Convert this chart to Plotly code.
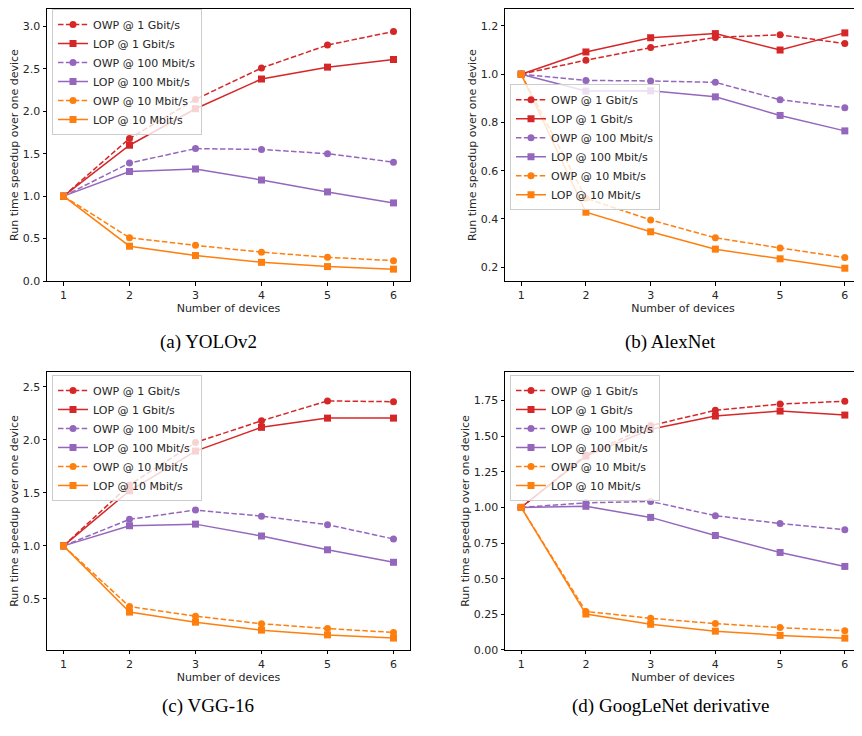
import plotly.graph_objects as go

devices = [1, 2, 3, 4, 5, 6]

series_names = ["OWP @ 1 Gbit/s", "LOP @ 1 Gbit/s", "OWP @ 100 Mbit/s",
                "LOP @ 100 Mbit/s", "OWP @ 10 Mbit/s", "LOP @ 10 Mbit/s"]

# (a) YOLOv2
yolo_owp_1g = [1.0, 1.68, 2.14, 2.51, 2.78, 2.94]
yolo_lop_1g = [1.0, 1.60, 2.03, 2.38, 2.52, 2.61]
yolo_owp_100m = [1.0, 1.39, 1.56, 1.55, 1.50, 1.40]
yolo_lop_100m = [1.0, 1.29, 1.32, 1.19, 1.05, 0.92]
yolo_owp_10m = [1.0, 0.51, 0.42, 0.34, 0.28, 0.24]
yolo_lop_10m = [1.0, 0.41, 0.30, 0.22, 0.17, 0.14]

# (b) AlexNet
alex_owp_1g = [1.0, 1.058, 1.11, 1.152, 1.163, 1.127]
alex_lop_1g = [1.0, 1.092, 1.151, 1.168, 1.100, 1.171]
alex_owp_100m = [1.0, 0.974, 0.972, 0.966, 0.894, 0.861]
alex_lop_100m = [1.0, 0.930, 0.931, 0.906, 0.829, 0.765]
alex_owp_10m = [1.0, 0.486, 0.396, 0.322, 0.280, 0.240]
alex_lop_10m = [1.0, 0.428, 0.347, 0.275, 0.235, 0.196]

# (c) VGG-16
vgg_owp_1g = [1.0, 1.575, 1.975, 2.18, 2.367, 2.36]
vgg_lop_1g = [1.0, 1.52, 1.894, 2.118, 2.205, 2.205]
vgg_owp_100m = [1.0, 1.25, 1.338, 1.28, 1.20, 1.065]
vgg_lop_100m = [1.0, 1.19, 1.205, 1.093, 0.963, 0.845]
vgg_owp_10m = [1.0, 0.427, 0.337, 0.265, 0.22, 0.183]
vgg_lop_10m = [1.0, 0.375, 0.28, 0.205, 0.16, 0.13]

# (d) GoogLeNet derivative
goog_owp_1g = [1.0, 1.368, 1.574, 1.681, 1.725, 1.745]
goog_lop_1g = [1.0, 1.36, 1.548, 1.641, 1.676, 1.648]
goog_owp_100m = [1.0, 1.032, 1.042, 0.942, 0.887, 0.843]
goog_lop_100m = [1.0, 1.008, 0.930, 0.803, 0.684, 0.586]
goog_owp_10m = [1.0, 0.270, 0.222, 0.185, 0.157, 0.135]
goog_lop_10m = [1.0, 0.252, 0.180, 0.132, 0.102, 0.083]

captions = ["(a) YOLOv2", "(b) AlexNet", "(c) VGG-16", "(d) GoogLeNet derivative"]

y_ranges = [[0.0, 3.205], [0.143, 1.270], [0.018, 2.64], [0.0, 1.95]]
y_ticks = [[0.0, 0.5, 1.0, 1.5, 2.0, 2.5, 3.0],
           [0.2, 0.4, 0.6, 0.8, 1.0, 1.2],
           [0.5, 1.0, 1.5, 2.0, 2.5],
           [0.0, 0.25, 0.5, 0.75, 1.0, 1.25, 1.5, 1.75]]
y_formats = [".1f", ".1f", ".1f", ".2f"]

panels = [
    [yolo_owp_1g, yolo_lop_1g, yolo_owp_100m, yolo_lop_100m, yolo_owp_10m, yolo_lop_10m],
    [alex_owp_1g, alex_lop_1g, alex_owp_100m, alex_lop_100m, alex_owp_10m, alex_lop_10m],
    [vgg_owp_1g, vgg_lop_1g, vgg_owp_100m, vgg_lop_100m, vgg_owp_10m, vgg_lop_10m],
    [goog_owp_1g, goog_lop_1g, goog_owp_100m, goog_lop_100m, goog_owp_10m, goog_lop_10m],
]

colors = ["#d62728", "#d62728", "#9467bd", "#9467bd", "#ff7f0e", "#ff7f0e"]
symbols = ["circle", "square", "circle", "square", "circle", "square"]
dashes = ["5.5px,2.4px", "solid", "5.5px,2.4px", "solid", "5.5px,2.4px", "solid"]

W, H = 862, 736
OFF = 8  # page body margin offset compensation
# panel boxes in screen pixels: (left, right, top, bottom)
boxes = [(47, 410, 8, 283), (505, 861, 8, 283), (47, 410, 375, 656), (505, 861, 375, 656)]
legend_pos = [(52, 8), (510, 84), (52, 378), (510, 378)]
caption_pos = [(208, 345), (670, 345), (208, 713), (670, 713)]


def px_x(v):
    return min(1.0, max(0.0, (v - OFF) / W))


def px_y(v):
    return min(1.0, max(0.0, 1 - (v - OFF) / H))


fig = go.Figure()
FONT = "DejaVu Sans"
layout = dict(width=W, height=H, margin=dict(l=0, r=0, t=0, b=0),
              paper_bgcolor="white", plot_bgcolor="white",
              font=dict(family=FONT, size=11, color="#262626"))

annotations = []
for i, data in enumerate(panels):
    n = "" if i == 0 else str(i + 1)
    xa, ya = "x" + n, "y" + n
    lg = "legend" + n
    for j, vals in enumerate(data):
        fig.add_trace(go.Scatter(
            x=devices, y=vals, name=series_names[j], mode="lines+markers",
            line=dict(color=colors[j], width=1.5, dash=dashes[j]),
            marker=dict(color=colors[j], symbol=symbols[j], size=7),
            xaxis=xa, yaxis=ya, legend=lg))
    l, r, t, b = boxes[i]
    ax_common = dict(showline=True, linecolor="black", linewidth=1, mirror=True,
                     ticks="outside", ticklen=3.5, tickcolor="black", showgrid=False,
                     zeroline=False, tickfont=dict(size=11, color="#262626"))
    layout["xaxis" + n] = dict(domain=[px_x(l), px_x(r)], range=[0.75, 6.25],
                               tickvals=devices, anchor=ya,
                               title=dict(text="Number of devices", font=dict(size=11), standoff=2),
                               **ax_common)
    layout["yaxis" + n] = dict(domain=[px_y(b), px_y(t)], range=y_ranges[i],
                               tickvals=y_ticks[i], tickformat=y_formats[i], anchor=xa,
                               title=dict(text="Run time speedup over one device", font=dict(size=11), standoff=1),
                               **ax_common)
    lx, ly = legend_pos[i]
    layout[lg] = dict(x=px_x(lx), y=px_y(ly), xanchor="left", yanchor="top",
                      bgcolor="rgba(255,255,255,0.8)", bordercolor="#cccccc", borderwidth=1,
                      font=dict(size=11, color="#262626"), tracegroupgap=0, itemwidth=30)
    cx, cy = caption_pos[i]
    annotations.append(dict(text=captions[i], x=px_x(cx), y=px_y(cy), xref="paper", yref="paper",
                            xanchor="center", yanchor="middle", showarrow=False,
                            font=dict(family="Liberation Serif", size=19, color="black")))

layout["annotations"] = annotations
fig.update_layout(**layout)
fig.write_html("out.html")
